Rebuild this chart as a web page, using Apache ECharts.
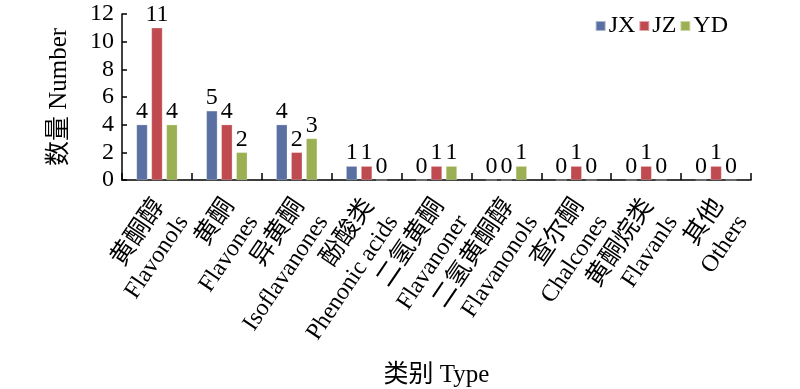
<!DOCTYPE html>
<html>
<head>
<meta charset="utf-8">
<script src="https://cdn.jsdelivr.net/npm/echarts@6/dist/echarts.min.js"></script>
<style>html,body{margin:0;padding:0;background:#fff;}#c{width:800px;height:389px;}</style>
</head>
<body>
<div id="c"></div>
<script>
const categoriesZh = ['黄酮醇','黄酮','异黄酮','酚酸类','二氢黄酮','二氢黄酮醇','查尔酮','黄酮烷类','其他'];
const categoriesEn = ['Flavonols','Flavones','Isoflavanones','Phenonic acids','Flavanoner','Flavanonols','Chalcones','Flavanls','Others'];
const seriesNames = ['JX','JZ','YD'];
const JX = [4,5,4,1,0,0,0,0,0];
const JZ = [11,4,2,1,1,0,1,1,1];
const YD = [4,2,3,0,1,1,0,0,0];
const yTicks = [0,2,4,6,8,10,12];

const FONT = '"Liberation Serif","Noto Sans CJK SC",serif';
const colors = ['#5A6FA2','#BF4A50','#9BB052'];
const categories = categoriesZh.map((z,i)=>'{zh|'+z+'}\n{en|'+categoriesEn[i]+'}');
const chart = echarts.init(document.getElementById('c'));
const mk = (name, data, i) => ({
  name, type:'bar', data,
  barWidth: 11, barGap: '36%',
  itemStyle:{color:colors[i], borderColor:'rgba(255,255,255,0.5)', borderWidth:0.5},
  label:{show:true, position:'top', distance:1, color:'#000', fontFamily:FONT, fontSize:24}
});
chart.setOption({
  animation:false,
  textStyle:{fontFamily:FONT},
  grid:{left:122, right:49, top:14, bottom:205},
  legend:{
    data: seriesNames, right:67, top:9, itemWidth:10, itemHeight:10, itemGap:3,
    icon:'rect',
    textStyle:{fontFamily:FONT, fontSize:24, color:'#000', padding:[0,0,0,-2]}
  },
  xAxis:{
    type:'category', data:categories,
    name:'类别 Type', nameLocation:'middle', nameGap:183,
    nameTextStyle:{fontFamily:FONT, fontSize:25, color:'#000'},
    axisLine:{lineStyle:{color:'#000', width:1.5}},
    axisTick:{show:true, inside:true, length:7, alignWithLabel:false, lineStyle:{color:'#000', width:1.5}},
    axisLabel:{rotate:56, interval:0, margin:20, padding:[35,0,0,0], color:'#000', align:'right',
      rich:{
        zh:{fontFamily:FONT, fontSize:25, lineHeight:29, color:'#000'},
        en:{fontFamily:FONT, fontSize:24, lineHeight:29, color:'#000'}
      }
    }
  },
  yAxis:{
    type:'value', min:0, max:12, interval:2,
    name:'数量 Number', nameLocation:'middle', nameGap:50, nameRotate:90,
    nameTextStyle:{fontFamily:FONT, fontSize:25, color:'#000'},
    axisLine:{show:true, lineStyle:{color:'#000', width:1.5}},
    axisTick:{show:true, inside:true, length:5, lineStyle:{color:'#000', width:1.5}},
    splitLine:{show:false},
    axisLabel:{margin:8, fontFamily:FONT, fontSize:24, color:'#000',
      formatter: v => yTicks.includes(v) ? String(v) : ''}
  },
  series:[mk('JX',JX,0), mk('JZ',JZ,1), mk('YD',YD,2)]
});
</script>
</body>
</html>
